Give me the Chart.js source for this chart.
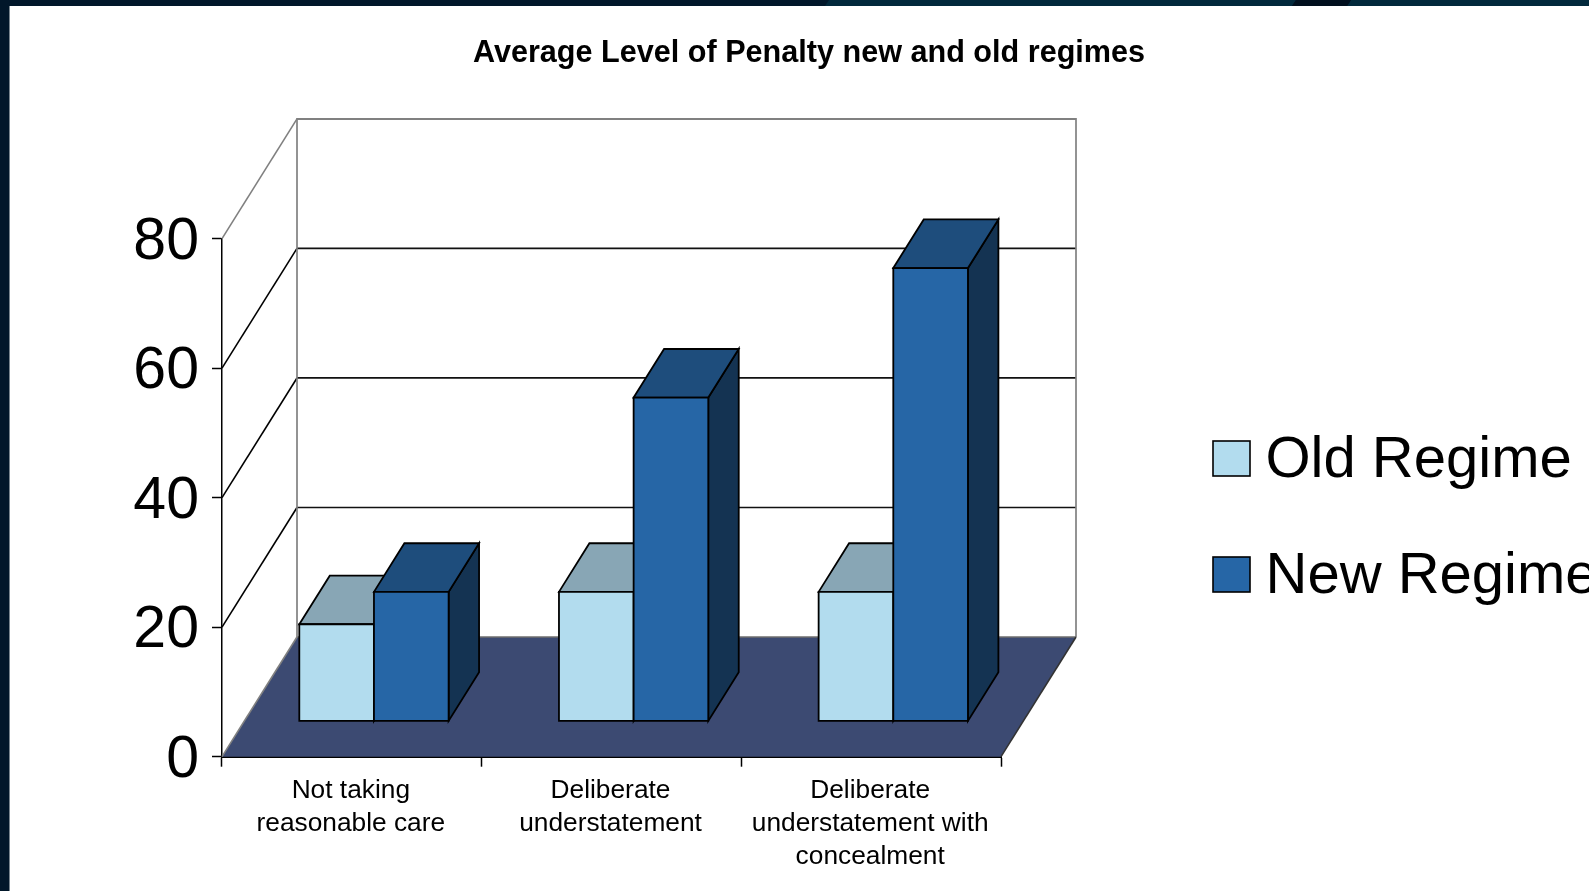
<!DOCTYPE html>
<html>
<head>
<meta charset="utf-8">
<title>Average Level of Penalty</title>
<script src="https://cdn.jsdelivr.net/npm/chart.js@4/dist/chart.umd.min.js"></script>
<style>
  html, body { margin: 0; padding: 0; background: #fff; overflow: hidden; }
  #wrap { position: absolute; left: 0; top: 0; width: 1589px; height: 891px; }
</style>
</head>
<body>
<div id="wrap"><canvas id="chart" width="1589" height="891"></canvas></div>
<script>
const categories = [
  ['Not taking', 'reasonable care'],
  ['Deliberate', 'understatement'],
  ['Deliberate', 'understatement with', 'concealment']
];
const oldRegime = [15, 20, 20];
const newRegime = [20, 50, 70];
const yTicks = [0, 20, 40, 60, 80];
const chartTitle = 'Average Level of Penalty new and old regimes';
const seriesNames = ['Old Regime', 'New Regime'];

const FONT = '"Liberation Sans", Arial, sans-serif';

// Oblique projection of the box: full depth of the walls and floor,
// where the bar row starts inside it, and how deep each bar is.
const DEPTH = { x: 75, y: -119.7 };
const BAR_FRONT = 0.295;
const BAR_DEPTH = 0.406;

const faces = {
  old: { front: '#b2dcee', top: '#88a6b5', side: '#88a6b5' },
  new: { front: '#2666a6', top: '#1e4d7c', side: '#143352' }
};

function poly(ctx, pts, fill, stroke, width) {
  ctx.beginPath();
  pts.forEach((p, i) => (i ? ctx.lineTo(p[0], p[1]) : ctx.moveTo(p[0], p[1])));
  ctx.closePath();
  if (fill) { ctx.fillStyle = fill; ctx.fill(); }
  if (stroke) { ctx.strokeStyle = stroke; ctx.lineWidth = width; ctx.lineJoin = 'miter'; ctx.stroke(); }
}

function line(ctx, x1, y1, x2, y2, color, width) {
  ctx.beginPath();
  ctx.moveTo(x1, y1);
  ctx.lineTo(x2, y2);
  ctx.strokeStyle = color;
  ctx.lineWidth = width;
  ctx.stroke();
}

// Slide background: white page with the dark frame along the top and left.
const slideFrame = {
  id: 'slideFrame',
  beforeDraw(chart) {
    const ctx = chart.ctx;
    ctx.save();
    ctx.fillStyle = '#ffffff';
    ctx.fillRect(0, 0, 1589, 891);
    ctx.fillStyle = '#01172a';
    ctx.fillRect(0, 0, 1589, 6);
    ctx.fillRect(0, 0, 9, 891);
    ctx.fillStyle = '#02293c';
    ctx.beginPath();
    ctx.moveTo(825, 6); ctx.lineTo(829, 0); ctx.lineTo(1296, 0); ctx.lineTo(1292, 6);
    ctx.closePath(); ctx.fill();
    ctx.beginPath();
    ctx.moveTo(1347, 6); ctx.lineTo(1351, 0); ctx.lineTo(1589, 0); ctx.lineTo(1589, 6);
    ctx.closePath(); ctx.fill();
    ctx.fillStyle = '#010f1e';
    ctx.beginPath();
    ctx.moveTo(1292, 6); ctx.lineTo(1296, 0); ctx.lineTo(1351, 0); ctx.lineTo(1347, 6);
    ctx.closePath(); ctx.fill();
    ctx.fillStyle = '#78858e';
    ctx.fillRect(9, 6, 1, 885);
    ctx.restore();
  }
};

// Floor, back wall and side wall, placed from the value and category scales.
const box3d = {
  id: 'box3d',
  beforeDatasetsDraw(chart) {
    const ctx = chart.ctx;
    const { left, right, top, bottom } = chart.chartArea;
    const y = chart.scales.y;
    const dx = DEPTH.x, dy = DEPTH.y;
    ctx.save();
    poly(ctx, [[left, bottom], [right, bottom], [right + dx, bottom + dy], [left + dx, bottom + dy]], '#3c4a72');
    yTicks.forEach(v => {
      const py = y.getPixelForValue(v);
      const color = v === 80 ? '#808080' : '#000000';
      if (v > 0) {
        line(ctx, left + dx, py + dy, right + dx, py + dy, v === 80 ? '#808080' : '#111111', v === 80 ? 2 : 1.7);
        line(ctx, left, py, left + dx, py + dy, color, 1.6);
      }
    });
    line(ctx, left + dx, bottom + dy, right + dx, bottom + dy, '#6e6e6e', 1.7);
    line(ctx, left + dx, top + dy - 1, left + dx, bottom + dy, '#808080', 1.7);
    line(ctx, right + dx, top + dy - 1, right + dx, bottom + dy, '#808080', 1.7);
    line(ctx, left, bottom, left + dx, bottom + dy, '#808080', 1.6);
    line(ctx, right, bottom, right + dx, bottom + dy, '#333333', 1.6);
    ctx.restore();
  }
};

// The bars overlap back to front, so series are painted in their listed order:
// the library's automatic pass is skipped, then each controller draws its bar
// elements on the front plane of the row, with top, side and outline around them.
const bars3d = {
  id: 'bars3d',
  beforeDatasetDraw() {
    return false;
  },
  afterDatasetsDraw(chart) {
    const ctx = chart.ctx;
    const ox = DEPTH.x * BAR_FRONT, oy = DEPTH.y * BAR_FRONT;
    const bx = DEPTH.x * BAR_DEPTH, by = DEPTH.y * BAR_DEPTH;
    const edge = 1.8;
    chart.data.datasets.forEach((ds, i) => {
      const meta = chart.getDatasetMeta(i);
      const scheme = i === 0 ? faces.old : faces.new;
      ctx.save();
      ctx.translate(ox, oy);
      meta.data.forEach(bar => {
        const l = bar.x - bar.width / 2, r = bar.x + bar.width / 2;
        const t = bar.y, b = bar.base;
        poly(ctx, [[r, t], [r + bx, t + by], [r + bx, b + by], [r, b]], scheme.side, '#000000', edge);
        poly(ctx, [[l, t], [l + bx, t + by], [r + bx, t + by], [r, t]], scheme.top, '#000000', edge);
      });
      meta.controller.draw();
      meta.data.forEach(bar => {
        const l = bar.x - bar.width / 2, r = bar.x + bar.width / 2;
        poly(ctx, [[l, bar.y], [r, bar.y], [r, bar.base], [l, bar.base]], null, '#000000', edge);
      });
      ctx.restore();
    });
  }
};

// Series key to the right of the plot; it reads the names and colours from the datasets.
const seriesKey = {
  id: 'seriesKey',
  afterDraw(chart) {
    const ctx = chart.ctx;
    const rows = [441, 557];
    ctx.save();
    chart.data.datasets.forEach((ds, i) => {
      const top = rows[i];
      ctx.fillStyle = ds.backgroundColor;
      ctx.fillRect(1213, top, 37, 35);
      ctx.strokeStyle = '#000000';
      ctx.lineWidth = 1.6;
      ctx.strokeRect(1213, top, 37, 35);
      ctx.fillStyle = '#000000';
      ctx.font = '58px ' + FONT;
      ctx.textAlign = 'left';
      ctx.textBaseline = 'alphabetic';
      ctx.fillText(ds.label, 1265.5, top + 35.5);
    });
    ctx.restore();
  }
};

new Chart(document.getElementById('chart'), {
  type: 'bar',
  data: {
    labels: categories,
    datasets: [
      { label: seriesNames[0], data: oldRegime, backgroundColor: faces.old.front },
      { label: seriesNames[1], data: newRegime, backgroundColor: faces.new.front }
    ]
  },
  plugins: [slideFrame, box3d, bars3d, seriesKey],
  options: {
    responsive: false,
    animation: false,
    events: [],
    layout: { padding: { left: 29, right: 0, top: 0, bottom: 0 } },
    datasets: { bar: { categoryPercentage: 0.575, barPercentage: 1, borderWidth: 0 } },
    plugins: {
      legend: { display: false },
      tooltip: { enabled: false },
      title: {
        display: true,
        text: chartTitle,
        color: '#000000',
        font: { family: FONT, size: 30.6, weight: 'bold', lineHeight: 1.2 },
        padding: { top: 35.4, bottom: 166.5 }
      }
    },
    scales: {
      x: {
        afterFit(scale) { scale.height = 134.3; },
        grid: { drawOnChartArea: false, drawTicks: true, tickLength: 10, tickColor: '#000000', tickWidth: 1.5, offset: true },
        border: { color: '#000000', width: 2 },
        ticks: {
          color: '#000000',
          font: { family: FONT, size: 26.3, lineHeight: 1.25 },
          padding: 8,
          labelOffset: -1,
          maxRotation: 0,
          autoSkip: false
        }
      },
      y: {
        min: 0,
        max: 80,
        afterFit(scale) { scale.width = 193; },
        afterBuildTicks(scale) { scale.ticks = yTicks.map(v => ({ value: v })); },
        grid: { drawOnChartArea: false, drawTicks: true, tickLength: 10, tickColor: '#000000', tickWidth: 1.5 },
        border: { color: '#000000', width: 1.5 },
        ticks: {
          color: '#000000',
          font: { family: FONT, size: 59 },
          padding: 13,
          labelOffset: 4
        }
      },
      // Empty axis that reserves the blank band holding the series key.
      keyBand: {
        position: 'right',
        min: 0,
        max: 1,
        afterFit(scale) { scale.width = 588; },
        grid: { display: false },
        border: { display: false },
        ticks: { display: false }
      }
    }
  }
});
</script>
</body>
</html>
